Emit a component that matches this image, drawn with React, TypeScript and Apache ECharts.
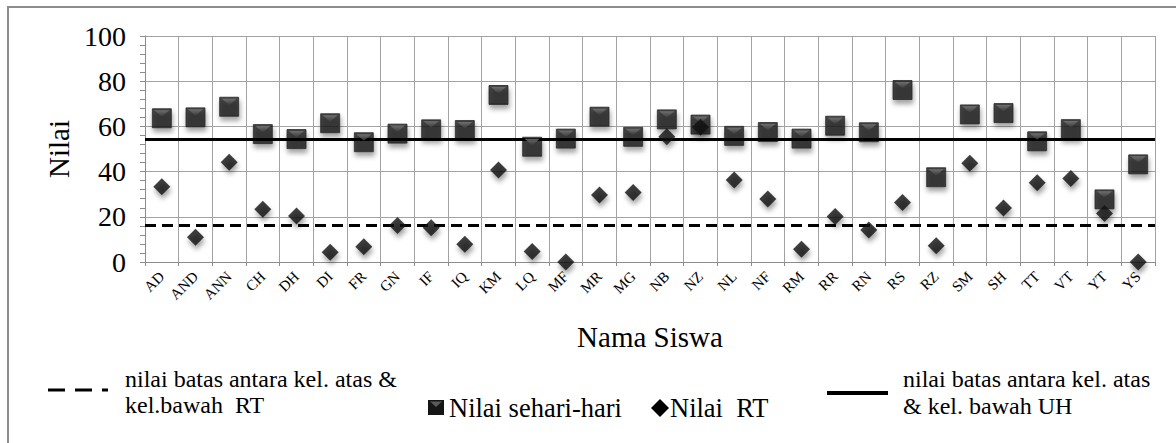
import React, { useEffect, useRef } from "react";
import * as echarts from "echarts";

const categories = ["AD","AND","ANN","CH","DH","DI","FR","GN","IF","IQ","KM","LQ","MF","MR","MG","NB","NZ","NL","NF","RM","RR","RN","RS","RZ","SM","SH","TT","VT","YT","YS"];
const nilaiSehariHari = [63.6,64.0,68.7,56.6,54.4,61.4,53.0,56.8,58.7,58.4,73.9,51.0,54.6,64.3,55.4,63.1,60.8,55.8,57.5,54.6,60.3,57.4,76.1,37.5,65.3,65.9,53.4,58.8,27.7,43.2];
const nilaiRT = [33.3,10.9,44.1,23.3,20.4,4.3,6.8,16.2,15.2,7.8,40.7,4.6,0,29.6,30.8,55.4,59.6,36.3,27.9,5.6,20.1,14.2,26.3,7.2,43.7,23.9,35.1,37.0,21.5,0];
const batasUH = 54.3;
const batasRT = 16.4;
const yTicks = { min: 0, max: 100, interval: 20 };

const FONT = "Liberation Serif";
const GRID_COLOR = "#a3a3a3";
const AXIS_COLOR = "#8c8c8c";

export default function App() {
  const ref = useRef<HTMLDivElement>(null);
  useEffect(() => {
    if (!ref.current) return;
    const chart = echarts.init(ref.current, null, { renderer: "svg" });
    const shadow = {
      shadowBlur: 5,
      shadowColor: "rgba(0,0,0,0.45)",
      shadowOffsetX: 1,
      shadowOffsetY: 4,
    };
    const option: any = {
      animation: false,
      backgroundColor: "#fff",
      textStyle: { fontFamily: FONT },
      grid: { left: 145, right: 21, top: 36, bottom: 181, containLabel: false },
      xAxis: {
        type: "category",
        data: categories,
        boundaryGap: true,
        name: "Nama Siswa",
        nameLocation: "middle",
        nameGap: 60,
        nameTextStyle: { fontFamily: FONT, fontSize: 29, color: "#000" },
        axisLine: { show: true, lineStyle: { color: AXIS_COLOR, width: 1 } },
        axisTick: { show: true, length: 4, lineStyle: { color: AXIS_COLOR } },
        axisLabel: { rotate: 45, interval: 0, margin: 12, fontFamily: FONT, fontSize: 15, color: "#000" },
        splitLine: { show: true, interval: 0, lineStyle: { color: GRID_COLOR, width: 1 } },
      },
      yAxis: {
        type: "value",
        min: yTicks.min,
        max: yTicks.max,
        interval: yTicks.interval,
        name: "Nilai",
        nameLocation: "middle",
        nameRotate: 90,
        nameGap: 47,
        nameTextStyle: { fontFamily: FONT, fontSize: 29, color: "#000" },
        axisLine: { show: true, lineStyle: { color: AXIS_COLOR, width: 1 } },
        axisTick: { show: true, length: 5, lineStyle: { color: AXIS_COLOR } },
        minorTick: { show: true, splitNumber: 5, length: 5, lineStyle: { color: AXIS_COLOR } },
        axisLabel: { margin: 19, fontFamily: FONT, fontSize: 28, color: "#000" },
        splitLine: { show: true, lineStyle: { color: GRID_COLOR, width: 1 } },
      },
      series: [
        {
          name: "nilai batas antara kel. atas & kel.bawah RT",
          type: "line",
          data: [],
          markLine: {
            silent: true,
            symbol: "none",
            label: { show: false },
            lineStyle: { color: "#000", width: 3, type: [11, 6] },
            data: [{ yAxis: batasRT }],
          },
          z: 3,
        },
        {
          name: "nilai batas antara kel. atas & kel. bawah UH",
          type: "line",
          data: [],
          markLine: {
            silent: true,
            symbol: "none",
            label: { show: false },
            lineStyle: { color: "#000", width: 3, type: "solid" },
            data: [{ yAxis: batasUH }],
          },
          z: 3,
        },
        {
          name: "Nilai sehari-hari",
          type: "scatter",
          data: nilaiSehariHari,
          symbol: "rect",
          symbolSize: [19, 19],
          itemStyle: { color: "#151515", borderColor: "#2a2a2a", borderWidth: 1, ...shadow },
          z: 4,
        },
        {
          name: "Nilai sehari-hari",
          type: "scatter",
          data: nilaiSehariHari,
          silent: true,
          symbol: "path://M0,0L14,0L7,6Z",
          symbolSize: [15, 6.5],
          symbolOffset: [0, -4.8],
          itemStyle: {
            color: new echarts.graphic.LinearGradient(0, 0, 0, 1, [
              { offset: 0, color: "#7a7a7a" },
              { offset: 1, color: "#3a3a3a" },
            ]),
          },
          z: 5,
        },
        {
          name: "Nilai RT",
          type: "scatter",
          data: nilaiRT,
          symbol: "diamond",
          symbolSize: [17, 17],
          itemStyle: { color: "#111", ...shadow },
          z: 6,
        },
      ],
      graphic: [
        {
          type: "rect",
          silent: true,
          z: -1,
          shape: { x: 8, y: 7, width: 1300, height: 600 },
          style: { fill: "none", stroke: "#8c8c8c", lineWidth: 2 },
        },
        {
          type: "line",
          shape: { x1: 48, y1: 390, x2: 108, y2: 390 },
          style: { stroke: "#000", lineWidth: 3, lineDash: [17, 10] },
        },
        {
          type: "text",
          x: 125,
          y: 392,
          style: {
            text: "nilai batas antara kel. atas &\nkel.bawah  RT",
            fontFamily: FONT,
            fontSize: 24,
            lineHeight: 26,
            fill: "#000",
            verticalAlign: "middle",
            align: "left",
          },
        },
        {
          type: "rect",
          shape: { x: 428, y: 400, width: 16, height: 15 },
          style: { fill: "#151515" },
        },
        {
          type: "polygon",
          shape: { points: [[430, 401.5], [442, 401.5], [436, 407]] },
          style: { fill: "#5a5a5a" },
        },
        {
          type: "text",
          x: 449,
          y: 408,
          style: { text: "Nilai sehari-hari", fontFamily: FONT, fontSize: 26.5, fill: "#000", verticalAlign: "middle" },
        },
        {
          type: "polygon",
          shape: { points: [[660, 399], [669, 408], [660, 417], [651, 408]] },
          style: { fill: "#000" },
        },
        {
          type: "text",
          x: 670,
          y: 408,
          style: { text: "Nilai  RT", fontFamily: FONT, fontSize: 26.5, fill: "#000", verticalAlign: "middle" },
        },
        {
          type: "line",
          shape: { x1: 827, y1: 393, x2: 888, y2: 393 },
          style: { stroke: "#000", lineWidth: 4 },
        },
        {
          type: "text",
          x: 903,
          y: 392,
          style: {
            text: "nilai batas antara kel. atas\n& kel. bawah UH",
            fontFamily: FONT,
            fontSize: 24,
            lineHeight: 27,
            fill: "#000",
            verticalAlign: "middle",
            align: "left",
          },
        },
      ],
    };
    chart.setOption(option);
    return () => chart.dispose();
  }, []);
  return (
    <div
      ref={ref}
      style={{ position: "absolute", left: 0, top: 0, width: 1176, height: 443, background: "#fff" }}
    />
  );
}
